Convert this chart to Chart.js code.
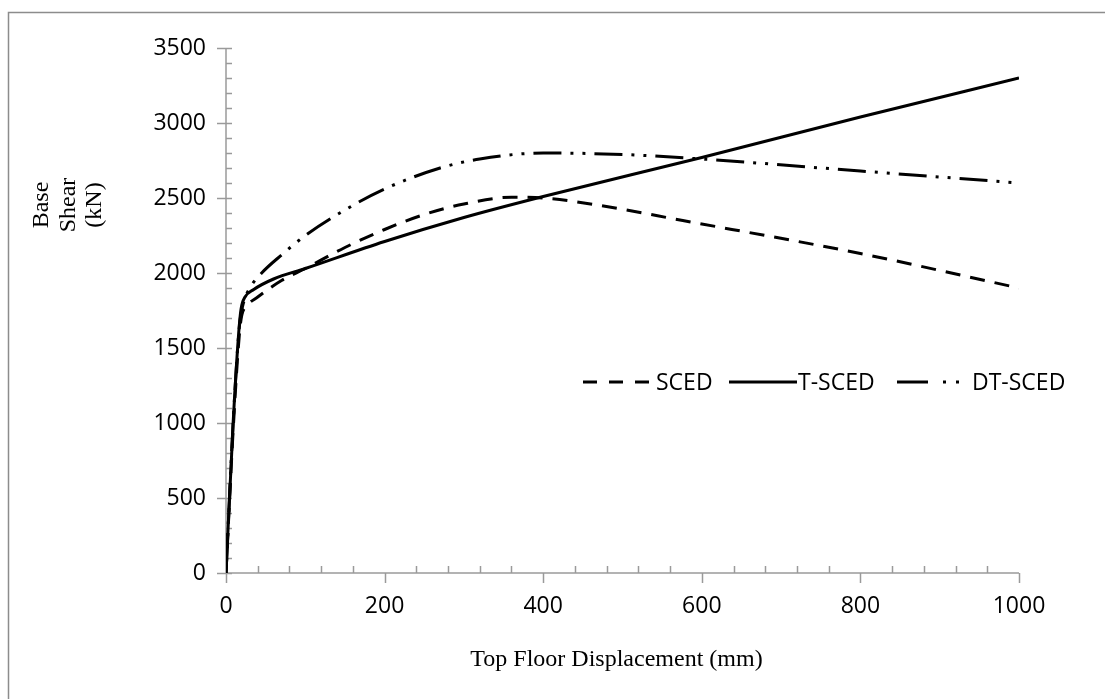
<!DOCTYPE html>
<html>
<head>
<meta charset="utf-8">
<script src="https://cdn.jsdelivr.net/npm/chart.js@4.4.1/dist/chart.umd.min.js"></script>
<style>
  html, body { margin: 0; padding: 0; background: #fff; }
  #wrap { width: 1105px; height: 699px; }
</style>
</head>
<body>
<div id="wrap"><canvas id="pushover"></canvas></div>
<script>
// pushover curves (displacement mm, base shear kN)
const scedDisp  = [0, 9, 17, 20, 26, 40, 70, 100, 150, 200, 250, 300, 360, 400, 472, 576, 800, 1000];
const scedShear = [0, 950, 1600, 1720, 1780, 1840, 1950, 2030, 2170, 2290, 2390, 2460, 2505, 2500, 2450, 2350, 2130, 1900];

const tscedDisp  = [0, 9, 16, 19, 24, 35, 60, 100, 200, 300, 400, 600, 800, 1000];
const tscedShear = [0, 1000, 1600, 1760, 1840, 1890, 1960, 2030, 2210, 2370, 2510, 2770, 3040, 3300];

const dtDisp  = [0, 9, 17, 22, 30, 45, 70, 100, 150, 200, 270, 320, 400, 500, 600, 800, 1000];
const dtShear = [0, 1000, 1650, 1800, 1900, 2000, 2120, 2250, 2420, 2560, 2700, 2760, 2800, 2790, 2760, 2680, 2600];

const seriesNames = ['SCED', 'T-SCED', 'DT-SCED'];
const xTicks = [0, 200, 400, 600, 800, 1000];
const yTicks = [0, 500, 1000, 1500, 2000, 2500, 3000, 3500];

const AXIS = '#9a9a9a';
const TICK_FONT = "'Open Sans', sans-serif";
const TITLE_FONT = "'Liberation Serif', 'Times New Roman', serif";

const pts = (xs, ys) => xs.map((x, i) => ({ x: x, y: ys[i] }));

// axes + ticks the way excel draws them (major across/outside, minor inside)
const axesPlugin = {
    id: 'axesPlugin',
    beforeDraw(chart) {
        const ctx = chart.ctx;
        ctx.save();
        ctx.fillStyle = '#fff';
        ctx.fillRect(0, 0, chart.width, chart.height);
        // outer frame
        ctx.strokeStyle = '#8c8c8c';
        ctx.lineWidth = 1.5;
        ctx.beginPath();
        ctx.moveTo(8.5, chart.height);
        ctx.lineTo(8.5, 12.5);
        ctx.lineTo(chart.width, 12.5);
        ctx.stroke();
        ctx.restore();
    },
    beforeDatasetsDraw(chart) {
        const { ctx, scales: { x, y } } = chart;
        const x0 = x.getPixelForValue(0), x1 = x.getPixelForValue(1000);
        const y0 = y.getPixelForValue(0), y1 = y.getPixelForValue(3500);
        ctx.save();
        ctx.strokeStyle = AXIS;
        ctx.lineWidth = 1.5;
        ctx.beginPath();
        ctx.moveTo(x0, y1); ctx.lineTo(x0, y0); ctx.lineTo(x1, y0);
        for (let v = 0; v <= 3500; v += 100) {
            const py = Math.round(y.getPixelForValue(v)) + 0.5;
            const major = v % 500 === 0;
            ctx.moveTo(major ? x0 - 9 : x0, py);
            ctx.lineTo(x0 + 6, py);
        }
        for (let v = 0; v <= 1000; v += 40) {
            const px = Math.round(x.getPixelForValue(v)) + 0.5;
            if (v % 200 === 0) {
                ctx.moveTo(px, y0); ctx.lineTo(px, y0 + 10);
            } else {
                ctx.moveTo(px, y0); ctx.lineTo(px, y0 - 7);
            }
        }
        ctx.stroke();
        ctx.restore();
    },
    afterDraw(chart) {
        const ctx = chart.ctx;
        const { x } = chart.scales;
        ctx.save();
        ctx.fillStyle = '#000';
        // axis titles
        ctx.font = '24px ' + TITLE_FONT;
        ctx.textAlign = 'center';
        ctx.textBaseline = 'middle';
        ctx.fillText('Top Floor Displacement (mm)', (x.getPixelForValue(0) + x.getPixelForValue(1000)) / 2 - 6, 660);
        ['Base', 'Shear', '(kN)'].forEach((t, i) => {
            ctx.save();
            ctx.translate(42 + i * 26.5, 205);
            ctx.rotate(-Math.PI / 2);
            ctx.fillText(t, 0, 0);
            ctx.restore();
        });

        // legend
        const legend = [
            { x0: 583, x1: 651, dash: [14, 12], tx: 656 },
            { x0: 729, x1: 797, dash: [], tx: 798 },
            { x0: 897, x1: 963, dash: [31, 15, 3, 10, 3, 20], tx: 972 }
        ];
        const ly = 382;
        ctx.font = '23px ' + TICK_FONT;
        ctx.textAlign = 'left';
        legend.forEach((l, i) => {
            ctx.strokeStyle = '#000';
            ctx.lineWidth = 3;
            ctx.setLineDash(l.dash);
            ctx.beginPath();
            ctx.moveTo(l.x0, ly); ctx.lineTo(l.x1, ly);
            ctx.stroke();
            ctx.setLineDash([]);
            ctx.fillText(seriesNames[i], l.tx, ly + 1);
        });
        ctx.restore();
    }
};

const lineStyle = { borderColor: '#000', borderWidth: 3, pointRadius: 0, fill: false, cubicInterpolationMode: 'monotone' };
const plain = v => String(v);

new Chart(document.getElementById('pushover'), {
    type: 'line',
    data: {
        datasets: [
            { ...lineStyle, label: seriesNames[0], data: pts(scedDisp, scedShear), borderDash: [15, 10] },
            { ...lineStyle, label: seriesNames[1], data: pts(tscedDisp, tscedShear) },
            { ...lineStyle, label: seriesNames[2], data: pts(dtDisp, dtShear), borderDash: [28, 9, 3, 9, 3, 9] }
        ]
    },
    options: {
        responsive: true,
        maintainAspectRatio: false,
        animation: false,
        layout: { padding: { top: 48, right: 86, left: 0, bottom: 0 } },
        plugins: { legend: { display: false }, tooltip: { enabled: false } },
        scales: {
            x: {
                type: 'linear', min: 0, max: 1000,
                afterBuildTicks: s => { s.ticks = xTicks.map(v => ({ value: v })); },
                afterFit: s => { s.height = 126; },
                grid: { display: false, drawTicks: false },
                border: { display: false },
                ticks: { color: '#000', padding: 20, maxRotation: 0, callback: plain, font: { family: TICK_FONT, size: 23 } }
            },
            y: {
                type: 'linear', min: 0, max: 3500,
                afterBuildTicks: s => { s.ticks = yTicks.map(v => ({ value: v })); },
                afterFit: s => { s.width = 226; },
                grid: { display: false, drawTicks: false },
                border: { display: false },
                ticks: { color: '#000', padding: 20, callback: plain, font: { family: TICK_FONT, size: 23 } }
            }
        }
    },
    plugins: [axesPlugin]
});
</script>
</body>
</html>
